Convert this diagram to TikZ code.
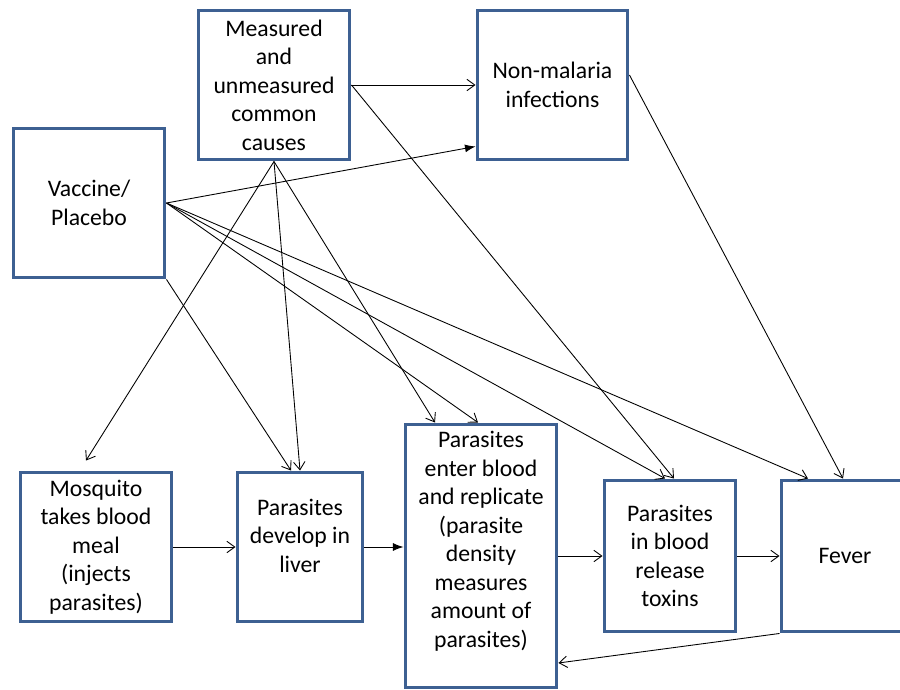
\documentclass[tikz,border=0pt]{standalone}
\usepackage{fontspec}
\setmainfont{Carlito}
\usepackage{tikz}
\usetikzlibrary{arrows.meta,positioning,calc}
\definecolor{boxblue}{RGB}{61,96,146}

\begin{document}
\begin{tikzpicture}[x=0.02cm, y=-0.02cm,
		font=\fontsize{13.5pt}{16.2pt}\selectfont,
		box/.style={draw=boxblue, line width=1.7pt, align=center, inner sep=0pt,
					minimum width=3.04cm, minimum height=3cm},
		arr/.style={-{Straight Barb[length=4.5pt,width=6.5pt]}, line width=0.5pt},
		arrfill/.style={-{Latex[length=6pt,width=4.5pt]}, line width=0.5pt}]

		\path[use as bounding box, fill=white] (0,0) rectangle (900,690);

		\node[box] (meas) at (274,85) {Measured\\and\\unmeasured\\common\\causes};
		\node[box, minimum width=3.02cm] (nonmal) at (552.5,85) {Non-malaria\\infections};
		\node[box] (vacc) at (89,203) {Vaccine/\\Placebo};
		\node[box] (mosq) at (96,547) {Mosquito\\takes blood\\meal\\(injects\\parasites)};
		\node[box, minimum width=2.52cm, text depth=13pt] (liver) at (300,547) {Parasites\\develop in\\liver};
		\node[box, minimum height=5.28cm, text depth=19pt] (enter) at (481,556)
			{Parasites\\enter blood\\and replicate\\(parasite\\density\\measures\\amount of\\parasites)};
		\node[box, minimum width=2.64cm, minimum height=3.04cm] (blood) at (670,556) {Parasites\\in blood\\release\\toxins};
		\node[box, minimum width=2.56cm, minimum height=3.04cm] (fever) at (845,556) {Fever};

		\draw[arr] (meas.east) -- (nonmal.west);
		\draw[arrfill] (vacc.east) -- ([yshift=0.3cm]nonmal.south west);
		\draw[arr] (meas.east) -- ([xshift=0.08cm]blood.north);
		\draw[arr] ([yshift=0.2cm]nonmal.east) -- ([xshift=-0.04cm]fever.north);
		\draw[arr] (meas.south) -- ([xshift=-0.2cm,yshift=0.2cm]mosq.north);
		\draw[arr] (meas.south) -- (liver.north);
		\draw[arr] (meas.south) -- ([xshift=-0.92cm]enter.north);
		\draw[arr] (vacc.south east) -- ([xshift=-0.18cm]liver.north);
		\draw[arr] (vacc.east) -- ([xshift=-0.06cm]enter.north);
		\draw[arr] (vacc.east) -- ([xshift=-0.1cm]blood.north);
		\draw[arr] (vacc.east) -- ([xshift=-0.74cm]fever.north);
		\draw[arr] (mosq.east) -- (liver.west);
		\draw[arrfill] (liver.east) -- (liver.east -| enter.west);
		\draw[arr] (enter.east) -- (blood.west);
		\draw[arr] (blood.east) -- (fever.west);
		\draw[arr] (fever.south west) -- ([yshift=-2.14cm]enter.east);
	\end{tikzpicture}
\end{document}
